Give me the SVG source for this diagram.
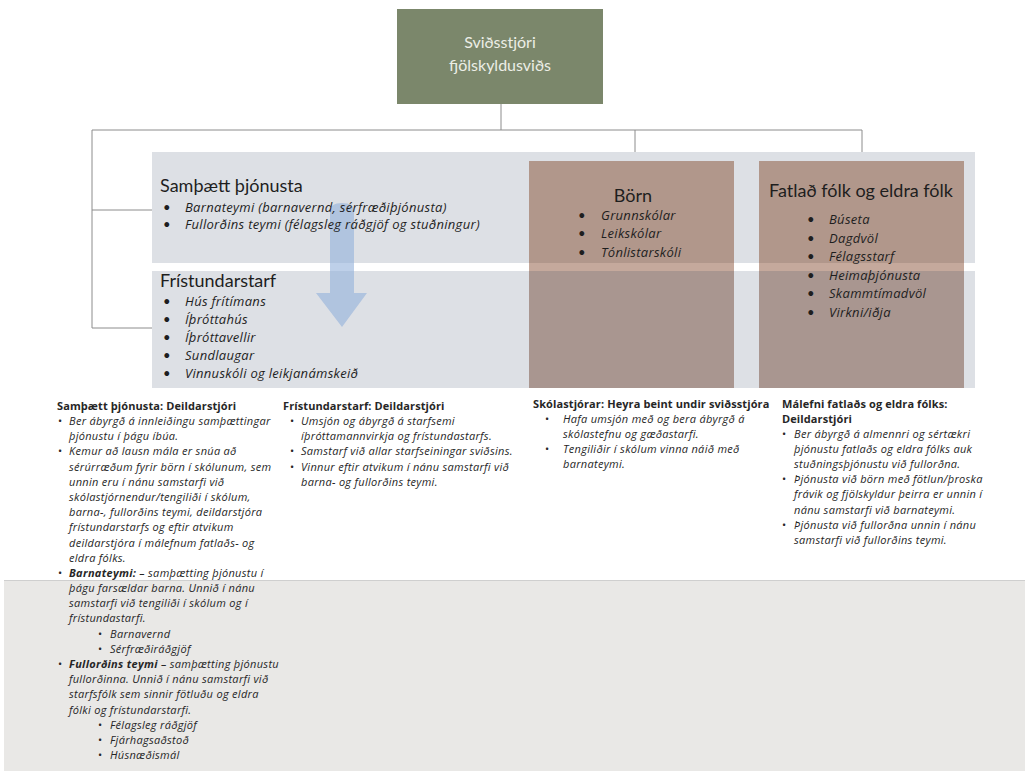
<svg xmlns="http://www.w3.org/2000/svg" width="1025" height="771" viewBox="0 0 1025 771">
<style>
.conn{stroke:#8c8c8c;stroke-width:1;fill:none}
.t{font-family:Lato,"Open Sans",sans-serif;fill:#1e1e1e}
.title{font-size:18px}
.item{font-family:"Open Sans",Lato,sans-serif;font-size:13px;font-style:italic;letter-spacing:0.3px}
.s{font-family:"Open Sans",Lato,sans-serif;font-size:11px;font-style:italic;fill:#262626;letter-spacing:0.3px}
.h{font-style:normal;font-weight:bold;letter-spacing:0.1px}
.b{font-weight:bold}
.panel{fill:#dde0e5}
.wt{fill:#eceee6;font-family:Lato,"Open Sans",sans-serif;font-size:16px}
</style>
<defs>
<linearGradient id="boxGrad" gradientUnits="userSpaceOnUse" x1="0" y1="161" x2="0" y2="388">
<stop offset="0" stop-color="#b1978b"/>
<stop offset="0.449" stop-color="#b1978b"/>
<stop offset="0.449" stop-color="#c5a99c"/>
<stop offset="0.485" stop-color="#c5a99c"/>
<stop offset="0.485" stop-color="#a99690"/>
<stop offset="1" stop-color="#a99690"/>
</linearGradient>
</defs>
<rect width="1025" height="771" fill="#ffffff"/>
<rect x="4" y="580" width="1021" height="191" fill="#e9e8e6"/>
<line x1="4" y1="580.5" x2="1025" y2="580.5" stroke="#cfcfcf"/>

<g id="connectors">
<line class="conn" x1="501" y1="104" x2="501" y2="130"/>
<polyline class="conn" points="152,210 92,210 92,130 862,130 862,161"/>
<line class="conn" x1="635" y1="130" x2="635" y2="161"/>
<polyline class="conn" points="92,210 92,328 152,328"/>
</g>

<g id="node-director">
<rect x="397" y="9" width="206" height="95" fill="#7b876b"/>
<text class="wt" x="500" y="48" text-anchor="middle">Sviðsstjóri</text>
<text class="wt" x="500" y="71" text-anchor="middle">fjölskyldusviðs</text>
</g>

<g id="node-samthaett">
<rect class="panel" x="152" y="152" width="823" height="111"/>
</g>
<g id="node-fristund">
<rect class="panel" x="152" y="271" width="823" height="117"/>
</g>

<g id="arrow">
<path d="M330,293 L330,212 Q330,203 342,203 Q354,203 354,212 L354,293 L367,293 L342,327 L316,293 Z" fill="#92b0da" fill-opacity="0.6"/>
</g>

<g id="text-samthaett" class="t">
<text class="title" x="160" y="192">Samþætt þjónusta</text>
<text x="163" y="212" font-size="13px">•</text>
<text class="item" x="185" y="212">Barnateymi (barnavernd, sérfræðiþjónusta)</text>
<text x="163" y="229" font-size="13px">•</text>
<text class="item" x="185" y="229">Fullorðins teymi (félagsleg ráðgjöf og stuðningur)</text>
</g>

<g id="text-fristund" class="t">
<text class="title" x="160" y="287">Frístundarstarf</text>
<g font-size="13px">
<text x="163" y="306">•</text><text class="item" x="185" y="306">Hús frítímans</text>
<text x="163" y="324">•</text><text class="item" x="185" y="324">Íþróttahús</text>
<text x="163" y="342">•</text><text class="item" x="185" y="342">Íþróttavellir</text>
<text x="163" y="360">•</text><text class="item" x="185" y="360">Sundlaugar</text>
<text x="163" y="378">•</text><text class="item" x="185" y="378">Vinnuskóli og leikjanámskeið</text>
</g>
</g>

<g id="node-born" class="t">
<rect x="529" y="161" width="205" height="227" fill="url(#boxGrad)"/>
<text class="title" x="633" y="202" text-anchor="middle">Börn</text>
<g font-size="13px">
<text x="578" y="220">•</text><text class="item" x="601" y="220">Grunnskólar</text>
<text x="578" y="238">•</text><text class="item" x="601" y="238">Leikskólar</text>
<text x="578" y="257">•</text><text class="item" x="601" y="257">Tónlistarskóli</text>
</g>
</g>

<g id="node-fatlad" class="t">
<rect x="759" y="161" width="205" height="227" fill="url(#boxGrad)"/>
<text class="title" x="861" y="197" text-anchor="middle">Fatlað fólk og eldra fólk</text>
<g font-size="13px">
<text x="807" y="224">•</text><text class="item" x="829" y="224">Búseta</text>
<text x="807" y="243">•</text><text class="item" x="829" y="243">Dagdvöl</text>
<text x="807" y="261">•</text><text class="item" x="829" y="261">Félagsstarf</text>
<text x="807" y="280">•</text><text class="item" x="829" y="280">Heimaþjónusta</text>
<text x="807" y="298">•</text><text class="item" x="829" y="298">Skammtímadvöl</text>
<text x="807" y="317">•</text><text class="item" x="829" y="317">Virkni/iðja</text>
</g>
</g>

<g id="desc-samthaett" class="s">
<text class="h" x="57" y="410">Samþætt þjónusta: Deildarstjóri</text>
<text x="58" y="425" font-style="normal">•</text>
<text x="69" y="425">Ber ábyrgð á innleiðingu samþættingar</text>
<text x="69" y="440">þjónustu í þágu íbúa.</text>
<text x="58" y="455" font-style="normal">•</text>
<text x="69" y="455">Kemur að lausn mála er snúa að</text>
<text x="69" y="471">sérúrræðum fyrir börn í skólunum, sem</text>
<text x="69" y="486">unnin eru í nánu samstarfi við</text>
<text x="69" y="501">skólastjórnendur/tengiliði í skólum,</text>
<text x="69" y="516">barna-, fullorðins teymi, deildarstjóra</text>
<text x="69" y="531">frístundarstarfs og eftir atvikum</text>
<text x="69" y="547">deildarstjóra í málefnum fatlaðs- og</text>
<text x="69" y="562">eldra fólks.</text>
<text x="58" y="577" font-style="normal">•</text>
<text x="69" y="577"><tspan class="b">Barnateymi:</tspan>  – samþætting þjónustu í</text>
<text x="69" y="592">þágu farsældar barna. Unnið í nánu</text>
<text x="69" y="607">samstarfi við tengiliði í skólum og í</text>
<text x="69" y="622">frístundastarfi.</text>
<text x="98" y="638" font-style="normal">•</text>
<text x="110" y="638">Barnavernd</text>
<text x="98" y="653" font-style="normal">•</text>
<text x="110" y="653">Sérfræðiráðgjöf</text>
<text x="58" y="668" font-style="normal">•</text>
<text x="69" y="668"><tspan class="b">Fullorðins teymi</tspan> – samþætting þjónustu</text>
<text x="69" y="683">fullorðinna. Unnið í nánu samstarfi við</text>
<text x="69" y="698">starfsfólk sem sinnir fötluðu og eldra</text>
<text x="69" y="714">fólki og frístundarstarfi.</text>
<text x="98" y="729" font-style="normal">•</text>
<text x="110" y="729">Félagsleg ráðgjöf</text>
<text x="98" y="744" font-style="normal">•</text>
<text x="110" y="744">Fjárhagsaðstoð</text>
<text x="98" y="759" font-style="normal">•</text>
<text x="110" y="759">Húsnæðismál</text>
</g>

<g id="desc-fristund" class="s">
<text class="h" x="283" y="410">Frístundarstarf: Deildarstjóri</text>
<text x="290" y="425" font-style="normal">•</text>
<text x="301" y="425">Umsjón og ábyrgð á starfsemi</text>
<text x="301" y="440">íþróttamannvirkja og frístundastarfs.</text>
<text x="290" y="455" font-style="normal">•</text>
<text x="301" y="455">Samstarf við allar starfseiningar sviðsins.</text>
<text x="290" y="471" font-style="normal">•</text>
<text x="301" y="471">Vinnur eftir atvikum í nánu samstarfi við</text>
<text x="301" y="486">barna- og fullorðins teymi.</text>
</g>

<g id="desc-skolastjorar" class="s">
<text class="h" x="533" y="408">Skólastjórar: Heyra beint undir sviðsstjóra</text>
<text x="545" y="423" font-style="normal">•</text>
<text x="563" y="423">Hafa umsjón með og bera ábyrgð á</text>
<text x="563" y="438">skólastefnu og gæðastarfi.</text>
<text x="545" y="453" font-style="normal">•</text>
<text x="563" y="453">Tengiliðir í skólum vinna náið með</text>
<text x="563" y="468">barnateymi.</text>
</g>

<g id="desc-malefni" class="s">
<text class="h" x="782" y="408">Málefni fatlaðs og eldra fólks:</text>
<text class="h" x="782" y="423">Deildarstjóri</text>
<text x="782" y="438" font-style="normal">•</text>
<text x="794" y="438">Ber ábyrgð á almennri og sértækri</text>
<text x="794" y="453">þjónustu fatlaðs og eldra fólks auk</text>
<text x="794" y="468">stuðningsþjónustu við fullorðna.</text>
<text x="782" y="483" font-style="normal">•</text>
<text x="794" y="483">Þjónusta við börn með fötlun/þroska</text>
<text x="794" y="498">frávik og fjölskyldur þeirra er unnin í</text>
<text x="794" y="514">nánu samstarfi við barnateymi.</text>
<text x="782" y="529" font-style="normal">•</text>
<text x="794" y="529">Þjónusta við fullorðna unnin í nánu</text>
<text x="794" y="544">samstarfi við fullorðins teymi.</text>
</g>
</svg>
